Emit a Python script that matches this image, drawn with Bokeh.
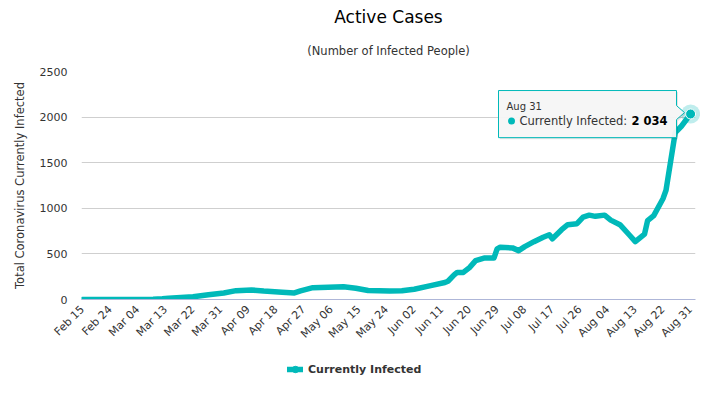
import pandas as pd
from math import pi
from bokeh.plotting import figure
from bokeh.layouts import column
from bokeh.models import (ColumnDataSource, Range1d, FixedTicker, DatetimeTickFormatter,
                          Legend, LegendItem, Title, Label)
from bokeh.embed import file_html
from bokeh.resources import INLINE

# ---------------- data ----------------
dates = ["2020-02-15", "2020-03-05", "2020-03-09", "2020-03-12", "2020-03-14", "2020-03-18",
         "2020-03-22", "2020-03-27", "2020-04-01", "2020-04-05", "2020-04-10", "2020-04-14",
         "2020-04-20", "2020-04-24", "2020-04-26", "2020-04-30", "2020-05-05", "2020-05-10",
         "2020-05-14", "2020-05-18", "2020-05-25", "2020-05-29", "2020-06-02", "2020-06-07",
         "2020-06-12", "2020-06-13", "2020-06-15", "2020-06-16", "2020-06-18", "2020-06-20",
         "2020-06-22", "2020-06-25", "2020-06-28", "2020-06-29", "2020-06-30", "2020-07-04",
         "2020-07-06", "2020-07-08", "2020-07-11", "2020-07-14", "2020-07-16", "2020-07-17",
         "2020-07-20", "2020-07-22", "2020-07-25", "2020-07-27", "2020-07-29", "2020-07-31",
         "2020-08-03", "2020-08-05", "2020-08-08", "2020-08-11", "2020-08-13", "2020-08-16",
         "2020-08-17", "2020-08-19", "2020-08-22", "2020-08-23", "2020-08-26", "2020-08-28",
         "2020-08-31"]
active = [0, 0, 2, 8, 15, 22,
          30, 53, 72, 97, 105, 92,
          80, 72, 95, 130, 135, 140,
          124, 98, 92, 95, 113, 150,
          186, 200, 270, 297, 297, 350,
          426, 456, 456, 555, 573, 566,
          536, 580, 634, 683, 710, 666,
          765, 820, 831, 904, 925, 912,
          925, 870, 820, 710, 635, 718,
          865, 920, 1105, 1198, 1830, 1900,
          2034]
y_ticks = [0, 500, 1000, 1500, 2000, 2500]
tick_dates = pd.date_range("2020-02-15", "2020-08-31", freq="9D")
series_name = "Currently Infected"
tooltip_date = "Aug 31"
tooltip_value = "2 034"

# ---------------- style ----------------
TEAL = "#00b9b9"
FONT = "DejaVu Sans"
TXT = "#333333"
DAY = 86400000.0
NAN = float("nan")

x = pd.to_datetime(dates)
src = ColumnDataSource(dict(x=x, y=active))
last_src = ColumnDataSource(dict(x=[x[-1]], y=[active[-1]]))

x0 = x[0].timestamp() * 1000 - 0.33 * DAY
x1 = x[-1].timestamp() * 1000 + 1.6 * DAY

FL, FR, FT, FB = 81.0, 695.0, 71.0, 298.5

p = figure(frame_width=int(FR - FL), frame_height=int(round(FB - FT)),
           x_axis_type="datetime", title=None,
           x_range=Range1d(x0, x1), y_range=Range1d(0, 2500),
           output_backend="svg", toolbar_location=None,
           min_border_left=81, min_border_right=5, min_border_top=71, min_border_bottom=55)
p.outline_line_color = None
p.background_fill_color = "white"

# titles
sub = Title(text="(Number of Infected People)", align="center", text_font=FONT,
            text_font_size="11.5px", text_font_style="normal", text_color=TXT, standoff=27)
p.add_layout(sub, "above")
main = Title(text="Active Cases", align="center", text_font=FONT, text_font_size="17px",
             text_font_style="normal", text_color="#000000", standoff=3)
p.add_layout(main, "above")

# grid & axes
p.xgrid.grid_line_color = None
p.ygrid.grid_line_color = "#cfcfcf"
p.ygrid.grid_line_width = 1

p.yaxis.ticker = FixedTicker(ticks=y_ticks)
p.yaxis.axis_line_color = None
p.yaxis.major_tick_line_color = None
p.yaxis.minor_tick_line_color = None
p.yaxis.major_tick_out = 0
p.yaxis.major_label_standoff = 14
p.yaxis.major_label_text_font = FONT
p.yaxis.major_label_text_font_size = "11px"
p.yaxis.major_label_text_color = TXT
p.yaxis.axis_label = "Total Coronavirus Currently Infected"
p.yaxis.axis_label_text_font = FONT
p.yaxis.axis_label_text_font_size = "11.5px"
p.yaxis.axis_label_text_font_style = "normal"
p.yaxis.axis_label_text_color = TXT
p.yaxis.axis_label_standoff = 10

p.xaxis.ticker = FixedTicker(ticks=[t.timestamp() * 1000 for t in tick_dates])
fmt = "%b %d"
p.xaxis.formatter = DatetimeTickFormatter(days=fmt, months=fmt, years=fmt, hours=fmt,
                                          hourmin=fmt, minutes=fmt, minsec=fmt,
                                          seconds=fmt, milliseconds=fmt, microseconds=fmt)
p.xaxis.axis_line_color = "#aeb6d8"
p.xaxis.axis_line_width = 1
p.xaxis.major_tick_line_color = None
p.xaxis.minor_tick_line_color = None
p.xaxis.major_tick_out = 0
p.xaxis.major_label_orientation = pi / 4
p.xaxis.major_label_standoff = 8
p.xaxis.major_label_text_font = FONT
p.xaxis.major_label_text_font_size = "11px"
p.xaxis.major_label_text_color = TXT

# series
line_style = dict(line_color=TEAL, line_width=5.5, line_join="round", line_cap="round")
p.line("x", "y", source=src, **line_style)

# highlighted last point
p.scatter("x", "y", source=last_src, size=19, fill_color=TEAL, fill_alpha=0.25,
          line_color=None, level="overlay")
p.scatter("x", "y", source=last_src, size=10, fill_color=TEAL, line_color="white",
          line_width=1, level="overlay")

# tooltip (pixel geometry of the frame -> data coords)
def sx(px):
    return x0 + (px - FL) / (FR - FL) * (x1 - x0)
def sy(py):
    return (FB - py) / (FB - FT) * 2500.0

box_px = [(498, 90), (676, 90), (676, 105), (684, 112), (676, 119), (676, 137), (498, 137)]
p.patch([sx(a + 1.5) for a, b in box_px], [sy(b + 1.5) for a, b in box_px],
        fill_color="#000000", fill_alpha=0.10, line_color=None, level="overlay")
p.patch([sx(a) for a, b in box_px], [sy(b) for a, b in box_px],
        fill_color="#f7f7f7", fill_alpha=0.95, line_color=TEAL, line_width=1, level="overlay")

p.add_layout(Label(x=sx(506), y=sy(106), text=tooltip_date, text_font=FONT,
                   text_font_size="10px", text_color=TXT, text_baseline="middle",
                   level="overlay"))
p.scatter(x=[sx(511)], y=[sy(120.5)], size=7, fill_color=TEAL, line_color=None, level="overlay")
p.add_layout(Label(x=sx(519), y=sy(120.5), text=series_name + ":", text_font=FONT,
                   text_font_size="11.5px", text_color=TXT, text_baseline="middle",
                   level="overlay"))
p.add_layout(Label(x=sx(667), y=sy(120.5), text=tooltip_value, text_font=FONT,
                   text_font_size="11.5px", text_font_style="bold", text_color="#000000",
                   text_align="right", text_baseline="middle", level="overlay"))

# legend strip (own small figure; its frame is aligned with the chart frame, so the
# label box is widened to the right to bring the visible item to the chart centre)
lg = figure(width=700, height=30, x_range=Range1d(0, 1), y_range=Range1d(0, 1),
            x_axis_location=None, y_axis_location=None, output_backend="svg",
            toolbar_location=None, min_border=0)
lg.outline_line_color = None
lg.xgrid.grid_line_color = None
lg.ygrid.grid_line_color = None
lg_line = lg.line(x=[NAN], y=[NAN], **line_style)
lg_dot = lg.scatter(x=[NAN], y=[NAN], size=9, fill_color=TEAL, line_color=TEAL)
legend = Legend(items=[LegendItem(label=series_name, renderers=[lg_line, lg_dot])],
                orientation="horizontal", location="center", border_line_color=None,
                background_fill_alpha=0, label_text_font=FONT, label_text_font_style="bold",
                label_text_font_size="11px", label_text_color=TXT, glyph_width=16,
                glyph_height=16, label_standoff=5, padding=0, margin=0, label_width=181)
lg.add_layout(legend, "center")

layout = column(p, lg, spacing=0)
open("out.html", "w").write(file_html(layout, INLINE))
